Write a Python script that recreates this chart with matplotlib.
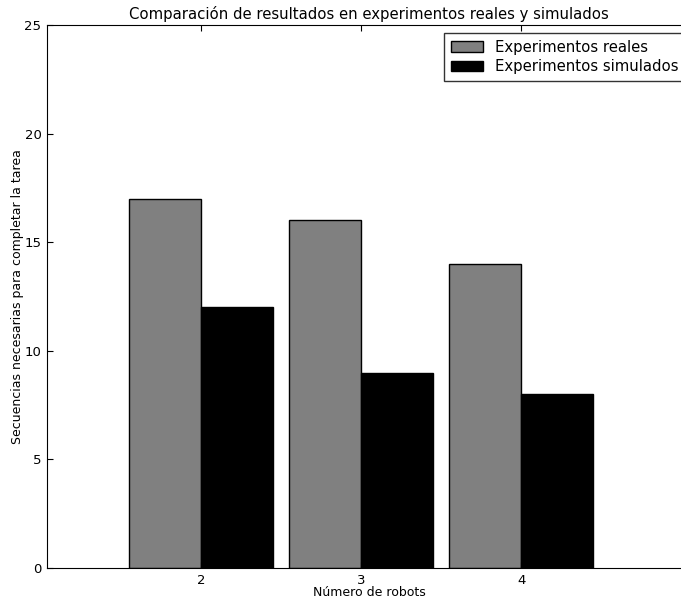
import matplotlib
matplotlib.use("Agg")
import matplotlib.pyplot as plt

robots = [2, 3, 4]
reales = [17, 16, 14]
simulados = [12, 9, 8]
yticks = [0, 5, 10, 15, 20, 25]

W, H = 681, 600
fig = plt.figure(figsize=(W / 100, H / 100), dpi=100)
left, right, bottom, top = 47, 691, 568, 25
ax = fig.add_axes([left / W, 1 - bottom / H, (right - left) / W, (bottom - top) / H])

width = 0.45
ax.bar([r - width for r in robots], reales, width=width, align="edge",
       color="#808080", edgecolor="black", linewidth=1.0, label="Experimentos reales")
ax.bar(robots, simulados, width=width, align="edge",
       color="black", edgecolor="black", linewidth=1.0, label="Experimentos simulados")

ax.set_xlim(1.04, 5.06)
ax.set_ylim(0, 25)
ax.set_xticks(robots)
ax.set_yticks(yticks)
ax.tick_params(direction="in", top=True, right=True, length=4, labelsize=9.5, pad=4)

ax.set_title("Comparación de resultados en experimentos reales y simulados", fontsize=10.75, pad=4)
ax.set_xlabel("Número de robots", fontsize=9)
ax.set_ylabel("Secuencias necesarias para completar la tarea", fontsize=9)
ax.xaxis.set_label_coords(0.5, -(593 - bottom) / (bottom - top), transform=ax.transAxes)
ax.xaxis.label.set_va("center")
ax.yaxis.set_label_coords(-(left - 18) / (right - left), 0.5, transform=ax.transAxes)
ax.yaxis.label.set_va("center")

leg = ax.legend(loc="upper left", bbox_to_anchor=(444 / W, 1 - 33 / H),
                bbox_transform=fig.transFigure, fontsize=10.7, fancybox=False,
                frameon=True, borderaxespad=0, handlelength=2.2, handleheight=0.7,
                borderpad=0.45, labelspacing=0.3)
leg.get_frame().set_edgecolor("black")
leg.get_frame().set_linewidth(1.0)

fig.savefig("out.png", dpi=100)
